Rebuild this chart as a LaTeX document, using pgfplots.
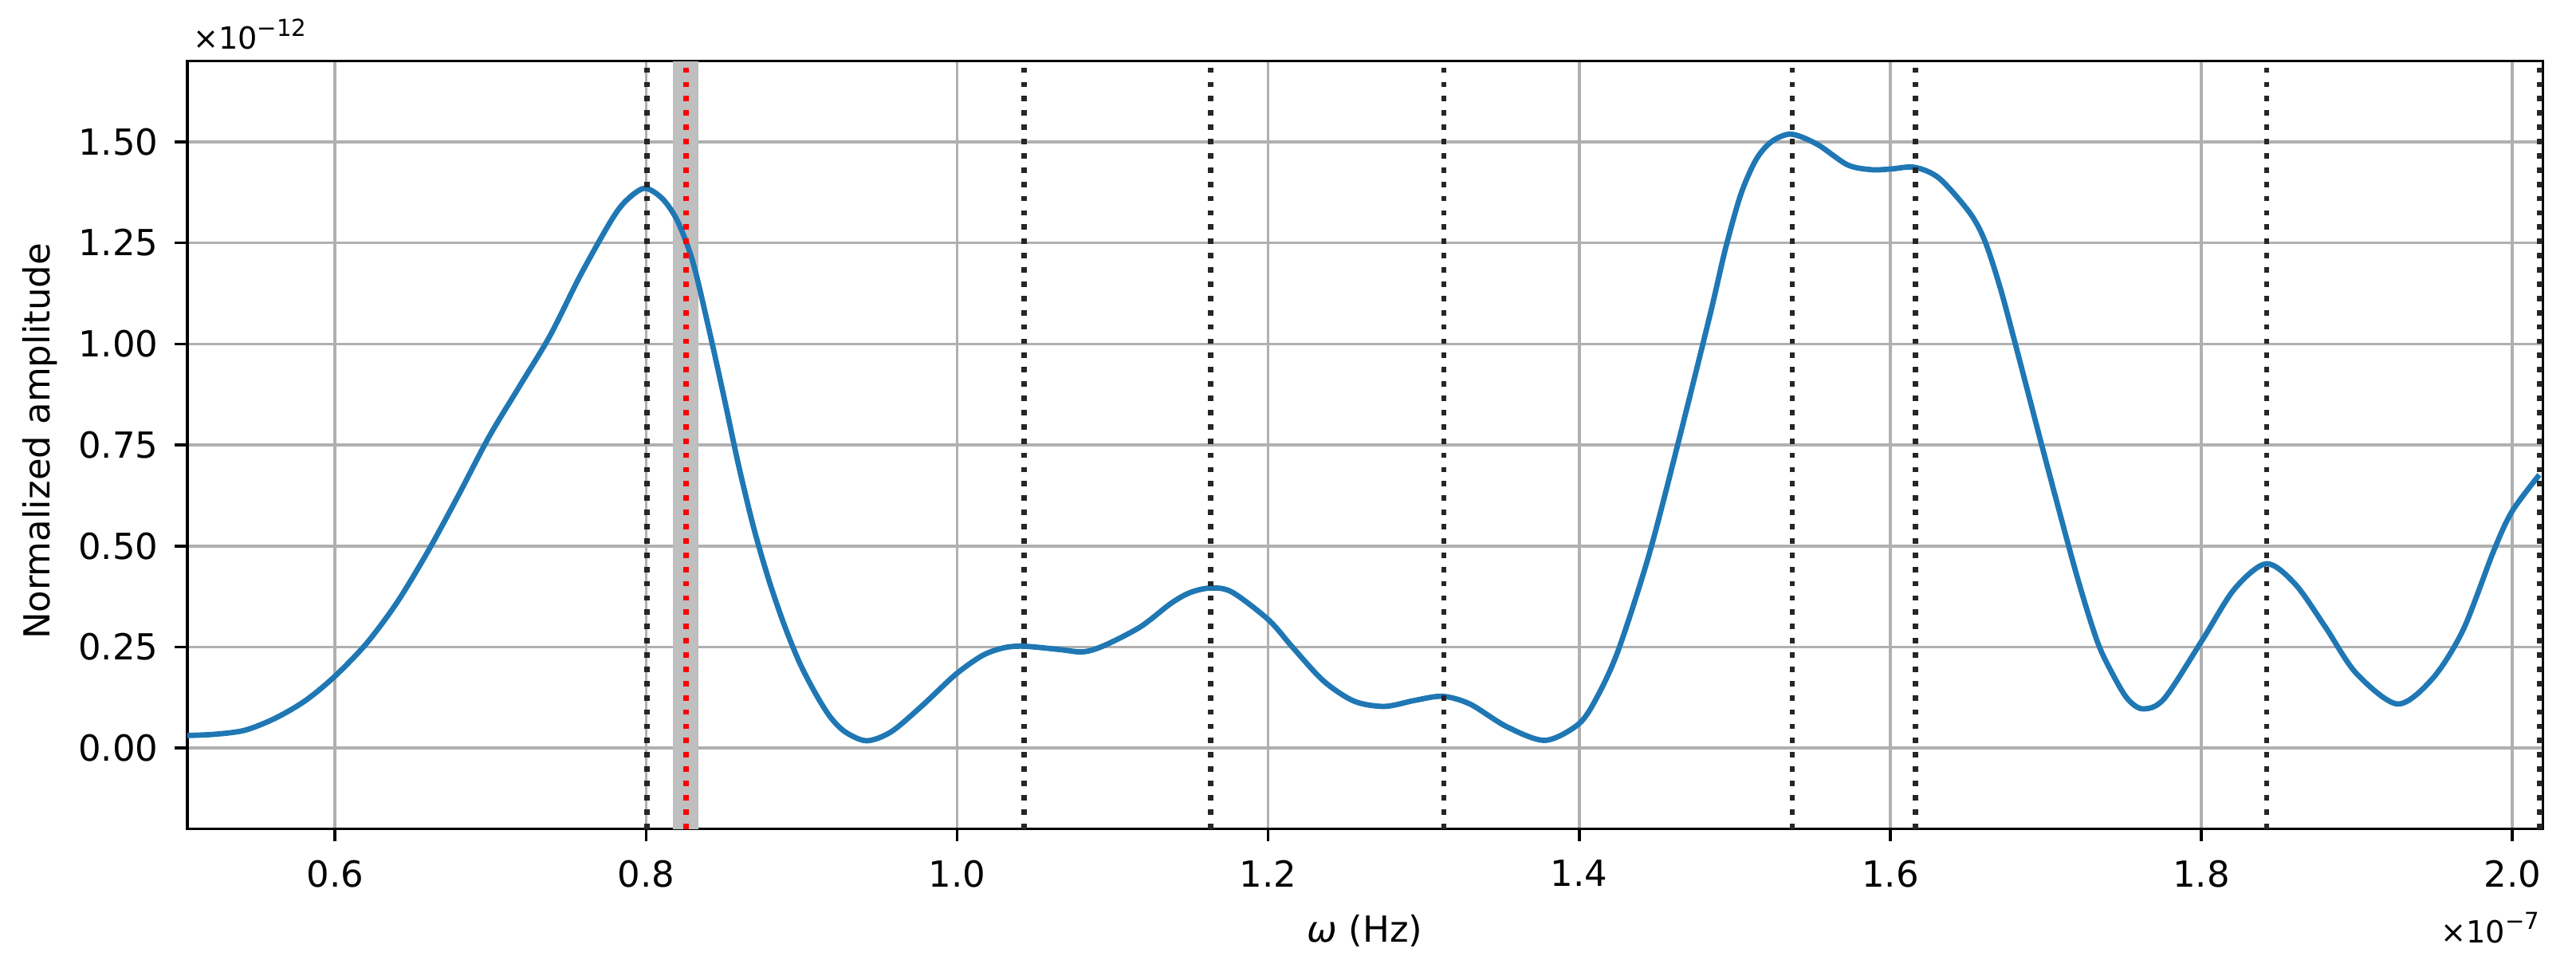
\documentclass[border=0pt]{standalone}
\usepackage{fontspec}
\setmainfont{DejaVu Sans}
\usepackage{pgfplots}
\usepackage{pgfplotstable}
\pgfplotsset{compat=1.18}

\definecolor{mplblue}{RGB}{31,119,180}
\definecolor{gridgray}{RGB}{176,176,176}
\definecolor{bandgray}{RGB}{191,191,191}

% amplitude spectrum, x in 1e-7 Hz, y in 1e-12
\pgfplotstableread{
x y
0.5048 0.031
0.5225 0.034
0.5420 0.044
0.5617 0.074
0.5812 0.118
0.6003 0.179
0.6205 0.260
0.6400 0.361
0.6598 0.487
0.6793 0.625
0.6990 0.770
0.7186 0.895
0.7382 1.020
0.7578 1.170
0.7775 1.305
0.7873 1.355
0.7990 1.385
0.8103 1.360
0.8201 1.305
0.8300 1.204
0.8398 1.047
0.8496 0.877
0.8594 0.701
0.8692 0.545
0.8790 0.415
0.8888 0.305
0.8986 0.212
0.9085 0.138
0.9182 0.078
0.9280 0.040
0.9418 0.018
0.9575 0.040
0.9770 0.103
0.9990 0.182
1.0163 0.229
1.0300 0.248
1.0428 0.252
1.0653 0.244
1.0810 0.238
1.0948 0.254
1.1179 0.300
1.1375 0.358
1.1500 0.385
1.1630 0.396
1.1767 0.386
1.2003 0.317
1.2160 0.248
1.2356 0.166
1.2552 0.116
1.2748 0.103
1.2944 0.118
1.3121 0.128
1.3297 0.109
1.3533 0.053
1.3780 0.019
1.3998 0.060
1.4120 0.130
1.4254 0.245
1.4450 0.480
1.4646 0.770
1.4843 1.075
1.4940 1.235
1.5039 1.370
1.5137 1.456
1.5235 1.500
1.5362 1.519
1.5530 1.494
1.5725 1.443
1.5882 1.431
1.6010 1.433
1.6157 1.437
1.6314 1.410
1.6510 1.325
1.6608 1.255
1.6706 1.140
1.6804 1.000
1.7001 0.710
1.7197 0.430
1.7330 0.265
1.7427 0.185
1.7525 0.122
1.7624 0.097
1.7761 0.122
1.8006 0.267
1.8212 0.393
1.8418 0.456
1.8605 0.405
1.8800 0.298
1.8996 0.185
1.9261 0.109
1.9487 0.172
1.9683 0.292
1.9879 0.487
1.9997 0.585
2.0173 0.676
}\spectrum

\begin{document}
\begin{tikzpicture}
\begin{axis}[
    scale only axis,
    width=656.6pt, height=214pt,
    xmin=0.505, xmax=2.0197,
    ymin=-0.2, ymax=1.70,
    enlargelimits=false,
    scaled ticks=false,
    xtick={0.6,0.8,1.0,1.2,1.4,1.6,1.8,2.0},
    ytick={0,0.25,0.5,0.75,1.0,1.25,1.5},
    tick pos=left,
    tick align=outside,
    major tick length=3.5pt,
    tick style={black, line width=0.8pt},
    axis line style={black, line width=0.8pt},
    grid=major,
    major grid style={gridgray, line width=0.8pt},
    /pgf/number format/assume math mode=true,
    tick label style={font=\fontsize{10}{12}\selectfont},
    xticklabel style={yshift=-1.7pt, /pgf/number format/fixed,
        /pgf/number format/fixed zerofill, /pgf/number format/precision=1},
    yticklabel style={xshift=-1.1pt, /pgf/number format/fixed,
        /pgf/number format/fixed zerofill, /pgf/number format/precision=2},
    vdot/.style={black!85, line width=1.5pt, dash pattern=on 1.5pt off 2.475pt},
]
% shaded band round the red line
\addplot[draw=none, fill=bandgray] coordinates {
    (0.8171,-0.2) (0.8337,-0.2) (0.8337,1.7) (0.8171,1.7)} -- cycle;

\addplot[mplblue, line width=1.5pt, smooth, tension=0.5] table {\spectrum};

\addplot[vdot] coordinates {(0.8004,-0.2) (0.8004,1.7)};
\addplot[vdot] coordinates {(1.0430,-0.2) (1.0430,1.7)};
\addplot[vdot] coordinates {(1.1630,-0.2) (1.1630,1.7)};
\addplot[vdot] coordinates {(1.3130,-0.2) (1.3130,1.7)};
\addplot[vdot] coordinates {(1.5370,-0.2) (1.5370,1.7)};
\addplot[vdot] coordinates {(1.6160,-0.2) (1.6160,1.7)};
\addplot[vdot] coordinates {(1.8420,-0.2) (1.8420,1.7)};
\addplot[vdot] coordinates {(2.0175,-0.2) (2.0175,1.7)};
\addplot[vdot, red] coordinates {(0.8256,-0.2) (0.8256,1.7)};

\coordinate (sw) at (rel axis cs:0,0);
\coordinate (ne) at (rel axis cs:1,1);
\coordinate (nw) at (rel axis cs:0,1);
\coordinate (se) at (rel axis cs:1,0);
\coordinate (W) at (rel axis cs:0,0.5);
\coordinate (S) at (rel axis cs:0.5,0);
\end{axis}

\node[rotate=90, anchor=base, font=\fontsize{10}{12}\selectfont]
    at ([xshift=-38.2pt, yshift=1pt]W) {Normalized amplitude};
\node[anchor=base, font=\fontsize{10}{12}\selectfont]
    at ([yshift=-31.5pt]S) {\textit{ω} (Hz)};
\node[anchor=base west, inner sep=0pt, font=\fontsize{8.5}{10}\selectfont]
    at ([xshift=1.4pt, yshift=3.4pt]nw) {×10\raisebox{3.6pt}{\fontsize{6.5}{7}\selectfont −12}};
\node[anchor=base east, inner sep=0pt, font=\fontsize{8.5}{10}\selectfont]
    at ([xshift=-0.8pt, yshift=-31.7pt]se) {×10\raisebox{3.6pt}{\fontsize{6.5}{7}\selectfont −7}};

\pgfresetboundingbox
\path ([xshift=-52.2pt, yshift=-37.6pt]sw) rectangle ([xshift=9.2pt, yshift=17pt]ne);
\end{tikzpicture}
\end{document}
